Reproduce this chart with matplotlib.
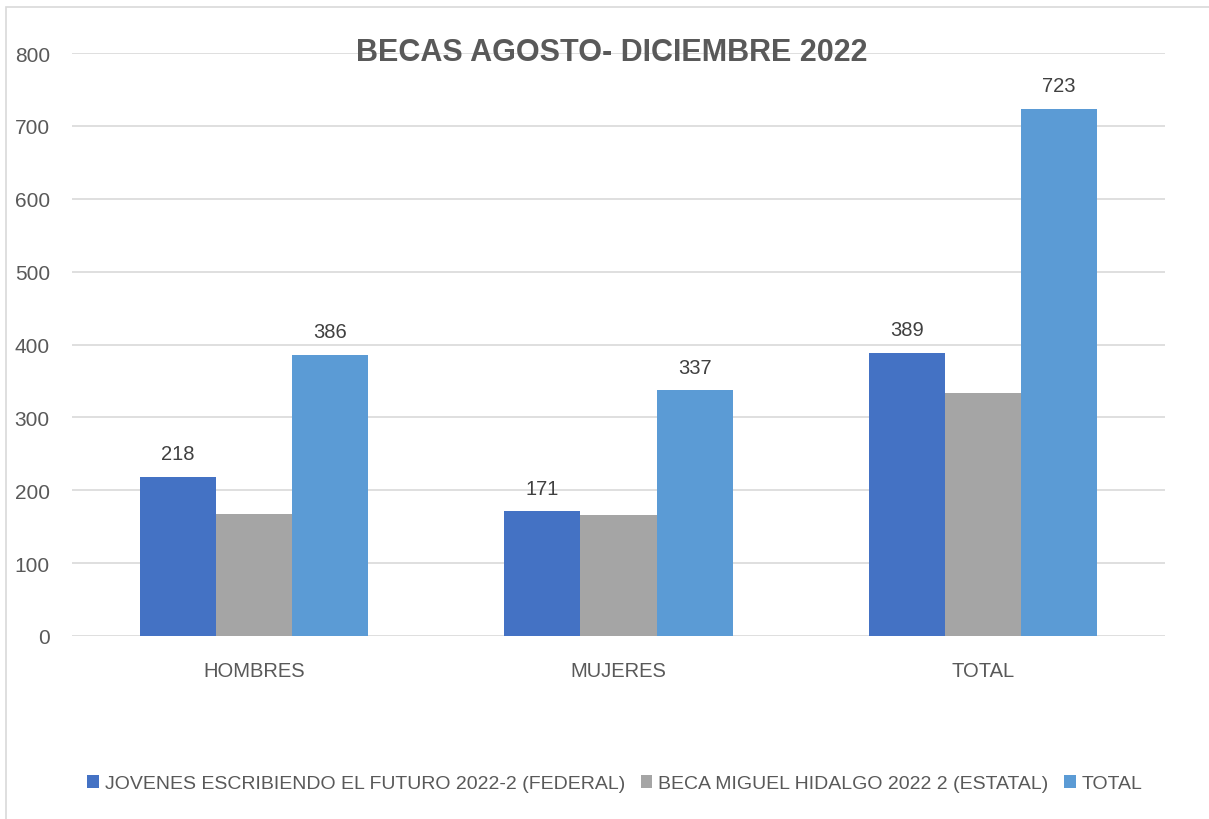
import numpy as np
import matplotlib.pyplot as plt
import matplotlib.patches as patches

categorias = ['HOMBRES', 'MUJERES', 'TOTAL']
series = ['JOVENES ESCRIBIENDO EL FUTURO 2022-2 (FEDERAL)',
          'BECA MIGUEL HIDALGO 2022 2 (ESTATAL)',
          'TOTAL']
federal = [218, 171, 389]
estatal = [168, 166, 334]
total = [386, 337, 723]
colores = ['#4472c4', '#a5a5a5', '#5b9bd5']
con_etiqueta = [True, False, True]

plt.rcParams['font.family'] = ['Liberation Sans', 'DejaVu Sans']

fig = plt.figure(figsize=(12.09, 8.2), dpi=100)
fig.patch.set_facecolor('white')
ax = fig.add_axes([0.0596, 0.2232, 0.9040, 0.7109])

# marco del grafico
fig.patches.append(patches.Rectangle((0.005, -0.01), 1.2, 1.0003, transform=fig.transFigure,
                                     fill=False, edgecolor='#d9d9d9', linewidth=1.2))

x = np.arange(len(categorias))
ancho = 0.209
for i, (valores, color) in enumerate(zip([federal, estatal, total], colores)):
    pos = x + (i - 1) * ancho
    barras = ax.bar(pos, valores, ancho, color=color, label=series[i], zorder=3)
    if con_etiqueta[i]:
        for b, v in zip(barras, valores):
            ax.text(b.get_x() + b.get_width() / 2, v + 19, str(v), ha='center', va='bottom',
                    fontsize=14.5, color='#404040')

ax.set_xlim(-0.5, 2.5)
ax.set_ylim(0, 800)
ax.set_yticks(range(0, 801, 100))
ax.tick_params(axis='y', length=0, labelsize=15, labelcolor='#595959', pad=16)
ax.tick_params(axis='x', length=0, labelsize=14.5, labelcolor='#595959', pad=18)
ax.set_xticks(x)
ax.set_xticklabels(categorias)
ax.grid(axis='y', color='#d9d9d9', linewidth=1.2, zorder=0)
for s in ax.spines.values():
    s.set_visible(False)

fig.text(0.506, 0.935, 'BECAS AGOSTO- DICIEMBRE 2022', ha='center', va='center',
         fontsize=22, fontweight='bold', color='#595959')

ax.legend(loc='center', bbox_to_anchor=(0.5085, 0.0427), bbox_transform=fig.transFigure,
          ncol=3, frameon=False, fontsize=14, handlelength=0.6, handleheight=0.6,
          handletextpad=0.3, columnspacing=0.8, labelcolor='#595959')

fig.savefig('out.png', dpi=100, facecolor='white')
